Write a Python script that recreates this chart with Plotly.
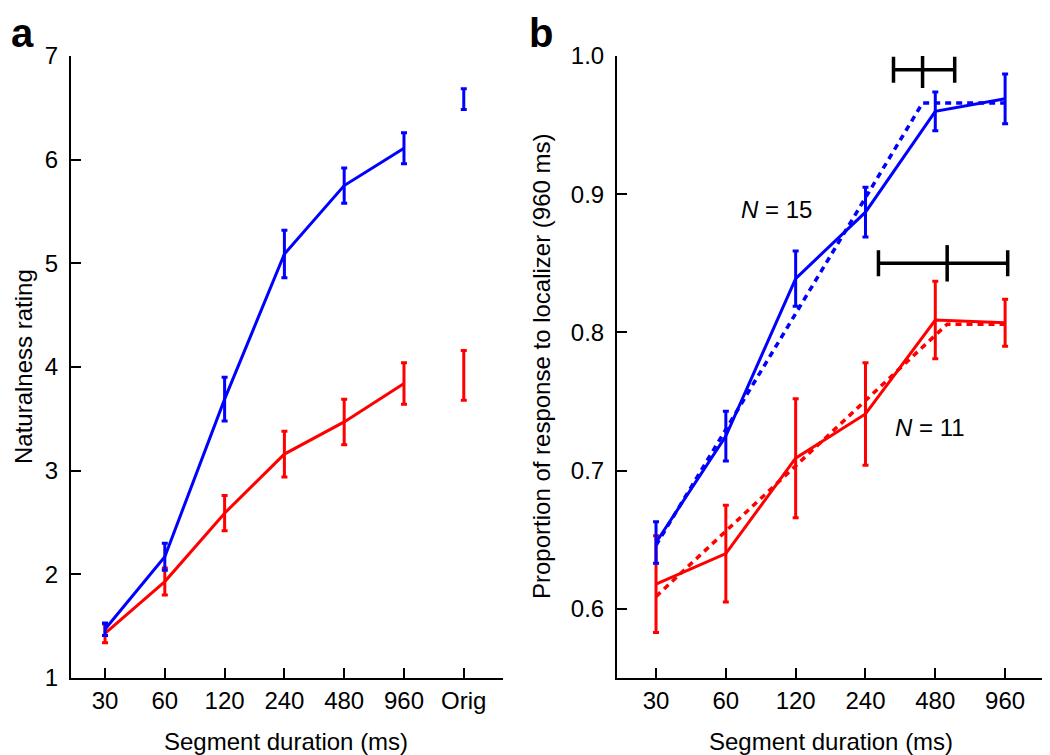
import math
import plotly.graph_objects as go

# ---------------- data ----------------
# Panel a: naturalness rating
cats_a = ["30", "60", "120", "240", "480", "960", "Orig"]
blue_a = [1.47, 2.17, 3.69, 5.09, 5.75, 6.11]
blue_a_err = [0.06, 0.13, 0.21, 0.23, 0.17, 0.15]
red_a = [1.43, 1.93, 2.59, 3.16, 3.47, 3.84]
red_a_err = [0.09, 0.13, 0.17, 0.22, 0.22, 0.20]
blue_orig = 6.585
blue_orig_err = 0.10
red_orig = 3.92
red_orig_err = 0.24

# Panel b: proportion of response to localizer (960 ms)
dur_b = [30, 60, 120, 240, 480, 960]
blue_b = [0.648, 0.725, 0.839, 0.887, 0.960, 0.969]
blue_b_err = [0.015, 0.018, 0.020, 0.018, 0.014, 0.018]
red_b = [0.618, 0.640, 0.709, 0.741, 0.809, 0.807]
red_b_err = [0.035, 0.035, 0.043, 0.037, 0.028, 0.017]

# piecewise-linear fits (knot points in ms)
blue_fit_x = [30, 423, 960]
blue_fit_y = [0.646, 0.966, 0.966]
red_fit_x = [30, 540, 960]
red_fit_y = [0.609, 0.806, 0.806]

# knot estimates with confidence intervals (ms)
blue_knot, blue_knot_lo, blue_knot_hi, blue_knot_y = 423, 317, 582, 0.990
red_knot, red_knot_lo, red_knot_hi, red_knot_y = 540, 273, 985, 0.850

BLUE = "#0000ff"
RED = "#ff0000"
FONT = "Liberation Sans, Arial, Helvetica, sans-serif"

fig = go.Figure()

idx_a = list(range(len(blue_a)))
orig_idx = cats_a.index("Orig")


def eb(arr, col, w=3):
    return dict(type="data", array=arr, visible=True, color=col, thickness=3, width=w)


# ---- panel a ----
fig.add_trace(go.Scatter(x=idx_a, y=red_a, mode="lines", line=dict(color=RED, width=3),
                         error_y=eb(red_a_err, RED), xaxis="x", yaxis="y", showlegend=False))
fig.add_trace(go.Scatter(x=idx_a, y=blue_a, mode="lines", line=dict(color=BLUE, width=3),
                         error_y=eb(blue_a_err, BLUE), xaxis="x", yaxis="y", showlegend=False))
fig.add_trace(go.Scatter(x=[orig_idx], y=[blue_orig], mode="lines", line=dict(color=BLUE, width=3),
                         error_y=eb([blue_orig_err], BLUE), xaxis="x", yaxis="y", showlegend=False))
fig.add_trace(go.Scatter(x=[orig_idx], y=[red_orig], mode="lines", line=dict(color=RED, width=3),
                         error_y=eb([red_orig_err], RED), xaxis="x", yaxis="y", showlegend=False))

# ---- panel b ----
fig.add_trace(go.Scatter(x=red_fit_x, y=red_fit_y, mode="lines",
                         line=dict(color=RED, width=3.5, dash="6px,5px"),
                         xaxis="x2", yaxis="y2", showlegend=False))
fig.add_trace(go.Scatter(x=blue_fit_x, y=blue_fit_y, mode="lines",
                         line=dict(color=BLUE, width=3.5, dash="6px,5px"),
                         xaxis="x2", yaxis="y2", showlegend=False))
fig.add_trace(go.Scatter(x=dur_b, y=red_b, mode="lines", line=dict(color=RED, width=3),
                         error_y=eb(red_b_err, RED), xaxis="x2", yaxis="y2", showlegend=False))
fig.add_trace(go.Scatter(x=dur_b, y=blue_b, mode="lines", line=dict(color=BLUE, width=3),
                         error_y=eb(blue_b_err, BLUE), xaxis="x2", yaxis="y2", showlegend=False))

for k, lo, hi, yy in [(blue_knot, blue_knot_lo, blue_knot_hi, blue_knot_y),
                      (red_knot, red_knot_lo, red_knot_hi, red_knot_y)]:
    fig.add_trace(go.Scatter(
        x=[k], y=[yy], mode="markers",
        marker=dict(symbol="line-ns", size=26, color="black", line=dict(color="black", width=3.5)),
        error_x=dict(type="data", array=[hi - k], arrayminus=[k - lo], visible=True,
                     color="black", thickness=3.5, width=13),
        xaxis="x2", yaxis="y2", showlegend=False))

ax_common = dict(showgrid=False, zeroline=False, showline=True, linecolor="black", linewidth=2,
                 ticks="inside", ticklen=10, tickwidth=2, tickcolor="black",
                 tickfont=dict(family=FONT, size=24, color="black"))

W, H = 1050, 755
OX, OY = 8, 8  # page body offset


def px_x(p):
    return (p - OX) / W


def px_y(p):
    return 1 - (p - OY) / H


log2 = math.log10(2)
l30 = math.log10(30)

fig.update_layout(
    width=W, height=H, margin=dict(l=0, r=0, t=0, b=0, pad=0, autoexpand=False),
    paper_bgcolor="white", plot_bgcolor="white", showlegend=False,
    xaxis=dict(domain=[px_x(71), px_x(503)], range=[-0.569, 6.656],
               tickvals=list(range(len(cats_a))), ticktext=cats_a, anchor="y", **ax_common),
    yaxis=dict(domain=[px_y(678), px_y(56)], range=[1, 7], tickvals=[1, 2, 3, 4, 5, 6, 7],
               anchor="x", ticklabelstandoff=6, **ax_common),
    xaxis2=dict(domain=[px_x(617), px_x(1047)], type="log",
                range=[l30 - 0.559 * log2, l30 + 5.60 * log2],
                tickvals=dur_b, ticktext=[str(d) for d in dur_b], anchor="y2", **ax_common),
    yaxis2=dict(domain=[px_y(678), px_y(56)], range=[0.55, 1.0],
                tickvals=[0.6, 0.7, 0.8, 0.9, 1.0], tickformat=".1f", anchor="x2",
                ticklabelstandoff=6, **ax_common),
)

ann_font = dict(family=FONT, size=24, color="black")
annotations = [
    dict(text="<b>a</b>", x=px_x(9), y=px_y(9), xref="paper", yref="paper",
         xanchor="left", yanchor="top", showarrow=False,
         font=dict(family=FONT, size=40, color="black")),
    dict(text="<b>b</b>", x=px_x(527), y=px_y(9), xref="paper", yref="paper",
         xanchor="left", yanchor="top", showarrow=False,
         font=dict(family=FONT, size=40, color="black")),
    dict(text="Naturalness rating", x=px_x(24), y=px_y(367), xref="paper", yref="paper",
         textangle=-90, xanchor="center", yanchor="middle", showarrow=False, font=ann_font),
    dict(text="Proportion of response to localizer (960 ms)", x=px_x(541), y=px_y(366),
         xref="paper", yref="paper", textangle=-90, xanchor="center", yanchor="middle",
         showarrow=False, font=ann_font),
    dict(text="Segment duration (ms)", x=px_x(286), y=px_y(741), xref="paper", yref="paper",
         xanchor="center", yanchor="middle", showarrow=False, font=ann_font),
    dict(text="Segment duration (ms)", x=px_x(831), y=px_y(741), xref="paper", yref="paper",
         xanchor="center", yanchor="middle", showarrow=False, font=ann_font),
    dict(text="<i>N</i> = 15", x=math.log10(99), y=0.889, xref="x2", yref="y2",
         xanchor="center", yanchor="middle", showarrow=False, font=ann_font),
    dict(text="<i>N</i> = 11", x=math.log10(456), y=0.731, xref="x2", yref="y2",
         xanchor="center", yanchor="middle", showarrow=False, font=ann_font),
]
fig.update_layout(annotations=annotations)

fig.write_html("out.html")
